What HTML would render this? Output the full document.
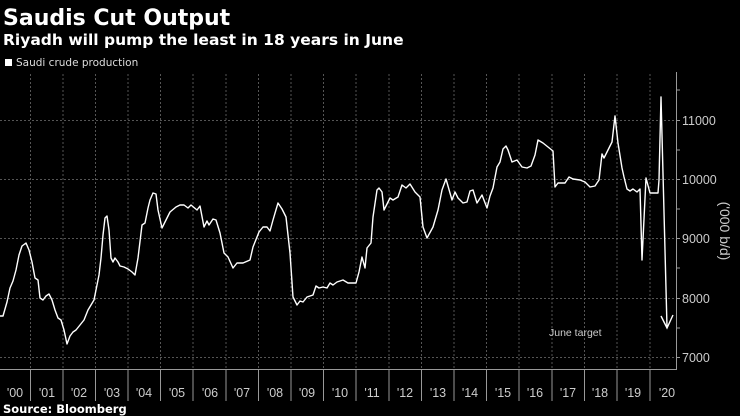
<!DOCTYPE html>
<html><head><meta charset="utf-8"><style>
html,body{margin:0;padding:0;background:#000;width:740px;height:416px;overflow:hidden}
svg{display:block}
</style></head><body>
<svg width="740" height="416" xmlns="http://www.w3.org/2000/svg" font-family="'DejaVu Sans','Liberation Sans',sans-serif">
<rect width="740" height="416" fill="#000"/>
<text x="3" y="25" fill="#fff" font-size="22" font-weight="bold">Saudis Cut Output</text>
<text x="3" y="45" fill="#fff" font-size="15.5" font-weight="bold">Riyadh will pump the least in 18 years in June</text>
<rect x="5" y="59" width="7" height="7" fill="#fff"/>
<text x="16" y="66" fill="#ddd" font-size="10.5">Saudi crude production</text>
<g stroke="#555" stroke-width="1" stroke-dasharray="2,2">
<line x1="0" x2="676" y1="120.5" y2="120.5"/><line x1="0" x2="676" y1="179.5" y2="179.5"/>
<line x1="0" x2="676" y1="238.5" y2="238.5"/><line x1="0" x2="676" y1="298.5" y2="298.5"/>
<line x1="0" x2="676" y1="357.5" y2="357.5"/>
<line x1="30.5" x2="30.5" y1="74" y2="369"/><line x1="63" x2="63" y1="74" y2="369"/><line x1="95.5" x2="95.5" y1="74" y2="369"/><line x1="128" x2="128" y1="74" y2="369"/><line x1="160.5" x2="160.5" y1="74" y2="369"/><line x1="193" x2="193" y1="74" y2="369"/><line x1="226" x2="226" y1="74" y2="369"/><line x1="258.5" x2="258.5" y1="74" y2="369"/><line x1="291" x2="291" y1="74" y2="369"/><line x1="323.5" x2="323.5" y1="74" y2="369"/><line x1="356" x2="356" y1="74" y2="369"/><line x1="389" x2="389" y1="74" y2="369"/><line x1="421.5" x2="421.5" y1="74" y2="369"/><line x1="454" x2="454" y1="74" y2="369"/><line x1="486.5" x2="486.5" y1="74" y2="369"/><line x1="519" x2="519" y1="74" y2="369"/><line x1="552" x2="552" y1="74" y2="369"/><line x1="584.5" x2="584.5" y1="74" y2="369"/><line x1="617" x2="617" y1="74" y2="369"/><line x1="650" x2="650" y1="74" y2="369"/>
</g>
<g stroke="#999" stroke-width="1">
<line x1="0" x2="677" y1="369.5" y2="369.5"/>
<line x1="676.5" x2="676.5" y1="72" y2="369"/>
<line x1="30.5" x2="30.5" y1="369" y2="401"/><line x1="63" x2="63" y1="369" y2="401"/><line x1="95.5" x2="95.5" y1="369" y2="401"/><line x1="128" x2="128" y1="369" y2="401"/><line x1="160.5" x2="160.5" y1="369" y2="401"/><line x1="193" x2="193" y1="369" y2="401"/><line x1="226" x2="226" y1="369" y2="401"/><line x1="258.5" x2="258.5" y1="369" y2="401"/><line x1="291" x2="291" y1="369" y2="401"/><line x1="323.5" x2="323.5" y1="369" y2="401"/><line x1="356" x2="356" y1="369" y2="401"/><line x1="389" x2="389" y1="369" y2="401"/><line x1="421.5" x2="421.5" y1="369" y2="401"/><line x1="454" x2="454" y1="369" y2="401"/><line x1="486.5" x2="486.5" y1="369" y2="401"/><line x1="519" x2="519" y1="369" y2="401"/><line x1="552" x2="552" y1="369" y2="401"/><line x1="584.5" x2="584.5" y1="369" y2="401"/><line x1="617" x2="617" y1="369" y2="401"/><line x1="650" x2="650" y1="369" y2="401"/>
<line x1="676" x2="680" y1="90" y2="90"/><line x1="676" x2="680" y1="120.5" y2="120.5"/><line x1="676" x2="680" y1="150" y2="150"/><line x1="676" x2="680" y1="179.5" y2="179.5"/><line x1="676" x2="680" y1="209" y2="209"/><line x1="676" x2="680" y1="238.5" y2="238.5"/><line x1="676" x2="680" y1="268" y2="268"/><line x1="676" x2="680" y1="298.5" y2="298.5"/><line x1="676" x2="680" y1="328" y2="328"/><line x1="676" x2="680" y1="357.5" y2="357.5"/>
</g>
<g fill="#ccc" font-size="12.5" font-family="'Liberation Sans',sans-serif">
<text x="682" y="125">11000</text><text x="682" y="184">10000</text><text x="682" y="243">9000</text><text x="682" y="303">8000</text><text x="682" y="362">7000</text>
<text transform="translate(720,231) rotate(90)" text-anchor="middle" font-size="14">('000 b/d)</text>
</g>
<g fill="#ccc" font-size="12.5" font-family="'Liberation Sans',sans-serif" text-anchor="middle">
<text x="15" y="397">'00</text><text x="47" y="397">'01</text><text x="79" y="397">'02</text><text x="112" y="397">'03</text><text x="144" y="397">'04</text><text x="177" y="397">'05</text><text x="210" y="397">'06</text><text x="242" y="397">'07</text><text x="275" y="397">'08</text><text x="307" y="397">'09</text><text x="340" y="397">'10</text><text x="372" y="397">'11</text><text x="405" y="397">'12</text><text x="438" y="397">'13</text><text x="470" y="397">'14</text><text x="503" y="397">'15</text><text x="535" y="397">'16</text><text x="568" y="397">'17</text><text x="600" y="397">'18</text><text x="633" y="397">'19</text><text x="667" y="397">'20</text>
</g>
<text x="549" y="336" fill="#ccc" font-size="10.5" font-family="'Liberation Sans',sans-serif">June target</text>
<text x="3" y="413" fill="#fff" font-size="11.5" font-weight="bold">Source: Bloomberg</text>
<polyline fill="none" stroke="#fff" stroke-width="1.4" stroke-linejoin="round" points="0,316 3,316 7,302 10,288 13,281 16,270 19,255 22,246 26,243 29,250 32,262 35,278 38,280 40,298 43,300 46,296 49,294 52,300 55,310 58,318 61,320 64,330 67,344 70,336 73,332 76,330 80,325 84,320 88,310 91,305 94,300 96,290 99,275 101,258 103,235 105,218 107,216 109,230 111,258 113,262 115,258 118,262 120,266 124,267 128,269 132,272 135,275 138,258 142,225 145,223 148,208 150,200 153,193 156,194 158,210 162,228 166,220 170,212 176,207 180,205 184,205 188,208 191,205 197,210 200,206 204,227 207,221 209,225 213,219 216,220 220,233 224,253 228,257 233,268 237,263 243,263 250,260 253,247 259,232 263,227 267,227 270,231 273,220 278,203 282,209 286,217 290,253 293,297 297,305 300,301 303,302 307,297 313,295 316,286 319,288 323,287 327,288 330,283 333,285 337,282 343,280 348,283 356,283 359,272 362,257 365,268 367,248 371,243 373,217 377,190 379,188 382,192 384,210 390,198 393,200 398,197 402,185 406,188 410,184 415,192 420,197 423,227 427,238 433,227 438,210 442,190 446,179 452,200 455,192 458,198 463,203 467,202 470,191 473,190 477,203 482,195 487,208 490,196 493,188 497,167 500,162 503,149 506,146 508,150 512,162 517,160 522,167 527,168 531,166 535,155 538,140 543,143 548,147 553,151 555,187 558,183 565,183 569,177 573,179 580,180 585,182 590,187 595,186 599,180 602,154 604,158 608,150 612,142 615,116 618,143 622,168 624,177 627,189 630,191 633,189 637,192 640,189 642,260 646,178 650,193 658,193 659,180 661,97 667,327"/>
<polyline fill="none" stroke="#fff" stroke-width="1.4" points="661,316 667,328 673,315"/>
</svg>
</body></html>
